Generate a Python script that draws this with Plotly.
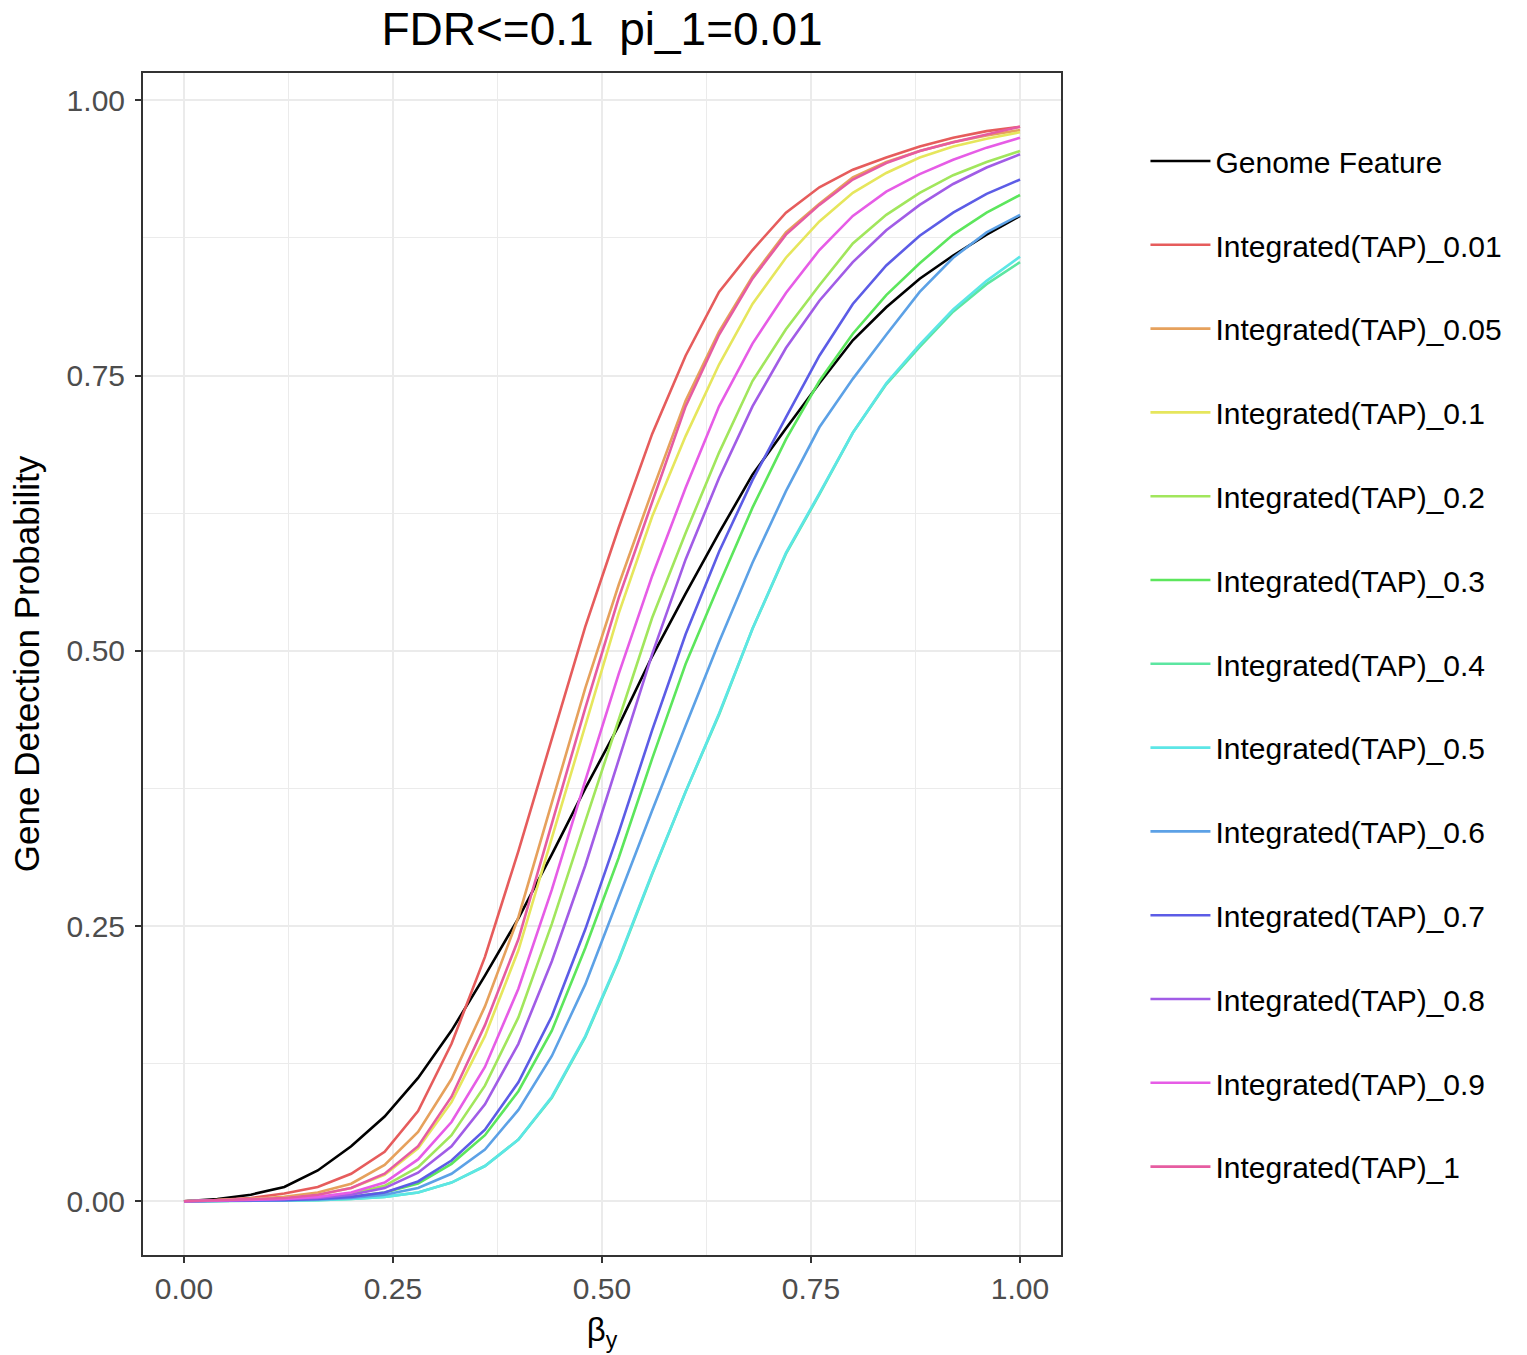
import plotly.graph_objects as go

beta_y = [0.00, 0.04, 0.08, 0.12, 0.16, 0.20, 0.24, 0.28, 0.32, 0.36, 0.40, 0.44, 0.48,
          0.52, 0.56, 0.60, 0.64, 0.68, 0.72, 0.76, 0.80, 0.84, 0.88, 0.92, 0.96, 1.00]

genome_feature = [0, .002, .006, .013, .028, .050, .077, .112, .155, .205, .257, .315, .375,
                  .432, .495, .552, .607, .660, .702, .743, .782, .812, .838, .859, .878, .895]
tap_0_01 = [0, .001, .003, .007, .013, .025, .045, .082, .143, .222, .318, .420, .522,
            .612, .697, .768, .826, .864, .898, .921, .937, .948, .958, .966, .972, .976]
tap_0_05 = [0, .001, .002, .004, .008, .016, .033, .063, .111, .177, .258, .362, .466,
            .560, .645, .727, .790, .840, .880, .906, .930, .944, .954, .962, .968, .973]
tap_0_1 = [0, .001, .002, .003, .006, .012, .024, .048, .090, .150, .228, .330, .433,
           .534, .622, .695, .760, .815, .857, .890, .916, .934, .948, .958, .965, .971]
tap_0_2 = [0, .0005, .001, .002, .003, .007, .014, .031, .060, .105, .167, .252, .345,
           .438, .530, .607, .680, .745, .792, .832, .870, .896, .916, .932, .944, .954]
tap_0_3 = [0, .0003, .0006, .001, .002, .004, .008, .016, .034, .060, .100, .155, .230,
           .312, .402, .488, .560, .630, .692, .745, .788, .823, .852, .878, .898, .914]
tap_0_4 = [0, .0001, .0003, .0005, .001, .002, .004, .008, .017, .032, .056, .094, .149,
           .219, .297, .372, .442, .520, .588, .642, .698, .742, .776, .808, .833, .853]
tap_0_5 = [0, .0001, .0003, .0005, .001, .002, .004, .008, .017, .032, .056, .095, .150,
           .220, .298, .372, .443, .520, .589, .643, .698, .743, .778, .810, .836, .858]
tap_0_6 = [0, .0002, .0005, .001, .0015, .003, .006, .012, .025, .047, .083, .132, .197,
           .276, .355, .432, .508, .580, .645, .703, .747, .787, .826, .857, .880, .896]
tap_0_7 = [0, .0003, .0008, .001, .002, .004, .008, .018, .037, .065, .108, .168, .247,
           .335, .428, .515, .590, .655, .712, .768, .815, .850, .877, .898, .915, .928]
tap_0_8 = [0, .0005, .001, .002, .003, .006, .012, .026, .050, .088, .143, .218, .305,
           .402, .497, .583, .657, .722, .775, .818, .853, .882, .905, .924, .939, .951]
tap_0_9 = [0, .0005, .001, .002, .004, .008, .017, .038, .072, .122, .193, .283, .382,
           .479, .568, .648, .722, .779, .825, .864, .895, .917, .933, .946, .957, .966]
tap_1 = [0, .001, .002, .003, .006, .012, .025, .050, .095, .160, .238, .342, .448,
         .548, .635, .722, .787, .838, .878, .905, .928, .943, .954, .962, .969, .976]

series_names = ["Genome Feature", "Integrated(TAP)_0.01", "Integrated(TAP)_0.05",
                "Integrated(TAP)_0.1", "Integrated(TAP)_0.2", "Integrated(TAP)_0.3",
                "Integrated(TAP)_0.4", "Integrated(TAP)_0.5", "Integrated(TAP)_0.6",
                "Integrated(TAP)_0.7", "Integrated(TAP)_0.8", "Integrated(TAP)_0.9",
                "Integrated(TAP)_1"]
series_values = [genome_feature, tap_0_01, tap_0_05, tap_0_1, tap_0_2, tap_0_3, tap_0_4,
                 tap_0_5, tap_0_6, tap_0_7, tap_0_8, tap_0_9, tap_1]
series_colors = ["#000000", "#E65C5C", "#E6A15C", "#E6E65C", "#A1E65C", "#5CE65C",
                 "#5CE6A1", "#5CE6E6", "#5CA1E6", "#5C5CE6", "#A15CE6", "#E65CE6", "#E65CA1"]

FONT = "Liberation Sans, Arial, sans-serif"

fig = go.Figure()
for i, (name, vals, col) in enumerate(zip(series_names, series_values, series_colors)):
    fig.add_trace(go.Scatter(
        x=beta_y, y=vals, mode="lines", name=name,
        line=dict(color=col, width=2.6),
        legendgroup=f"g{i}",
    ))

axis_common = dict(
    showline=True, linecolor="#333333", linewidth=2, mirror=True,
    ticks="outside", ticklen=6, tickwidth=2, tickcolor="#333333",
    tickfont=dict(family=FONT, size=30, color="#4D4D4D"),
    showgrid=True, gridcolor="#EBEBEB", gridwidth=2.4,
    zeroline=False,
)

fig.update_xaxes(
    range=[-0.049, 1.049], tick0=0, dtick=0.25, tickformat=".2f",
    minor=dict(dtick=0.125, tick0=0, showgrid=True, gridcolor="#EBEBEB", gridwidth=1.2, ticks=""),
    ticklabelstandoff=0,
    title=dict(text="β<sub>y</sub>", font=dict(family=FONT, size=33, color="#000000"), standoff=14),
    **axis_common,
)
fig.update_yaxes(
    range=[-0.0488, 1.0248], tick0=0, dtick=0.25, tickformat=".2f",
    minor=dict(dtick=0.125, tick0=0, showgrid=True, gridcolor="#EBEBEB", gridwidth=1.2, ticks=""),
    ticklabelstandoff=4,
    title=dict(text="Gene Detection Probability", font=dict(family=FONT, size=35, color="#000000"), standoff=16),
    **axis_common,
)

fig.update_layout(
    width=1527, height=1355,
    margin=dict(l=143, r=466, t=73, b=100, autoexpand=False),
    paper_bgcolor="white", plot_bgcolor="white",
    title=dict(text="FDR&lt;=0.1\u00a0 pi_1=0.01", x=0.5, xref="paper", xanchor="center",
               y=1 - 29 / 1355, yref="container", yanchor="middle",
               font=dict(family=FONT, size=46, color="#000000")),
    legend=dict(
        x=1.092, xanchor="left", y=1 - (163 - 73 - 28) / 1182, yanchor="top",
        font=dict(family=FONT, size=30, color="#000000"),
        tracegroupgap=41.8, bgcolor="rgba(0,0,0,0)", itemwidth=60,
    ),
    showlegend=True,
)

fig.write_html("out.html")
